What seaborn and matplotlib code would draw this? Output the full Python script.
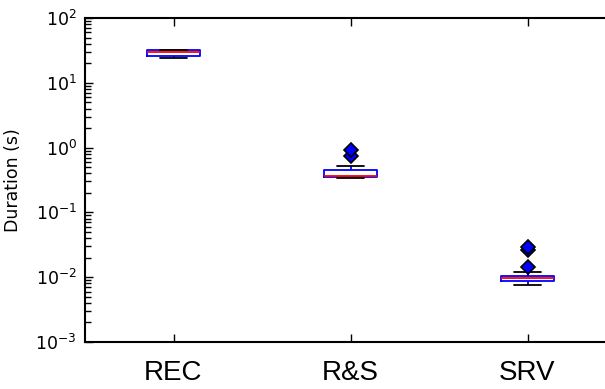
import matplotlib
matplotlib.use("Agg")
import matplotlib.pyplot as plt
from matplotlib.ticker import LogLocator, NullFormatter
import seaborn as sns
import pandas as pd

categories = ["REC", "R&S", "SRV"]
rec_durations = [24.4, 25.2, 25.9, 28.0, 29.6, 30.8, 32.0, 32.3, 32.5]
rs_durations = [0.335, 0.338, 0.341, 0.346, 0.350, 0.356, 0.362, 0.38, 0.41,
                0.451, 0.526, 0.74, 0.91]
srv_durations = [0.0076, 0.0080, 0.0084, 0.0086, 0.00883, 0.0090, 0.0092, 0.0094,
                 0.0096, 0.0098, 0.0100, 0.0103, 0.01055, 0.0122, 0.0144, 0.0263, 0.0292]
y_label = "Duration (s)"

df = pd.DataFrame({
    "method": [categories[0]] * len(rec_durations)
    + [categories[1]] * len(rs_durations)
    + [categories[2]] * len(srv_durations),
    "duration": rec_durations + rs_durations + srv_durations,
})

sns.set_style("white")
plt.rcParams["font.family"] = ["DejaVu Sans"]

fig = plt.figure(figsize=(6.05, 3.89), dpi=100)
ax = fig.add_axes([85 / 605, (389 - 342) / 389, 531 / 605, (342 - 18) / 389])

sns.boxplot(
    data=df, x="method", y="duration", order=categories, ax=ax,
    width=0.3, fill=False, linewidth=1.3, whis=1.5,
    boxprops=dict(color="blue", linewidth=1.3),
    medianprops=dict(color="red", linewidth=1.3),
    whiskerprops=dict(color="blue", linewidth=1.3, linestyle="--"),
    capprops=dict(color="black", linewidth=1.3),
    flierprops=dict(marker="D", markerfacecolor="blue", markeredgecolor="black",
                    markersize=7.5, markeredgewidth=1.2),
)

ax.set_yscale("log")
ax.set_ylim(1e-3, 1e2)
ax.set_xlim(-0.5, 2.5)
ax.yaxis.set_major_locator(LogLocator(base=10, numticks=10))
ax.yaxis.set_minor_locator(LogLocator(base=10, subs=(2.0, 3.0, 4.0, 5.0, 6.0, 7.0, 8.0, 9.0), numticks=12))
ax.yaxis.set_minor_formatter(NullFormatter())
ax.set_xlabel("")
ax.set_ylabel(y_label, fontsize=12.5, color="black")
ax.yaxis.set_label_coords(-0.118, 0.5)

for s in ax.spines.values():
    s.set_visible(True)
    s.set_color("black")
    s.set_linewidth(1.5)

ax.tick_params(axis="y", which="major", direction="in", length=6, width=1,
               labelsize=12.5, pad=6, left=True, right=True, color="black", labelcolor="black")
ax.tick_params(axis="y", which="minor", direction="in", length=4, width=1,
               left=True, right=True, color="black")
ax.tick_params(axis="x", which="major", direction="in", length=6, width=1, pad=13,
               top=True, bottom=True, color="black", labelcolor="black")
for lab in ax.get_xticklabels():
    lab.set_fontfamily("Liberation Sans")
    lab.set_fontsize(20)

fig.savefig("out.png", dpi=100)
